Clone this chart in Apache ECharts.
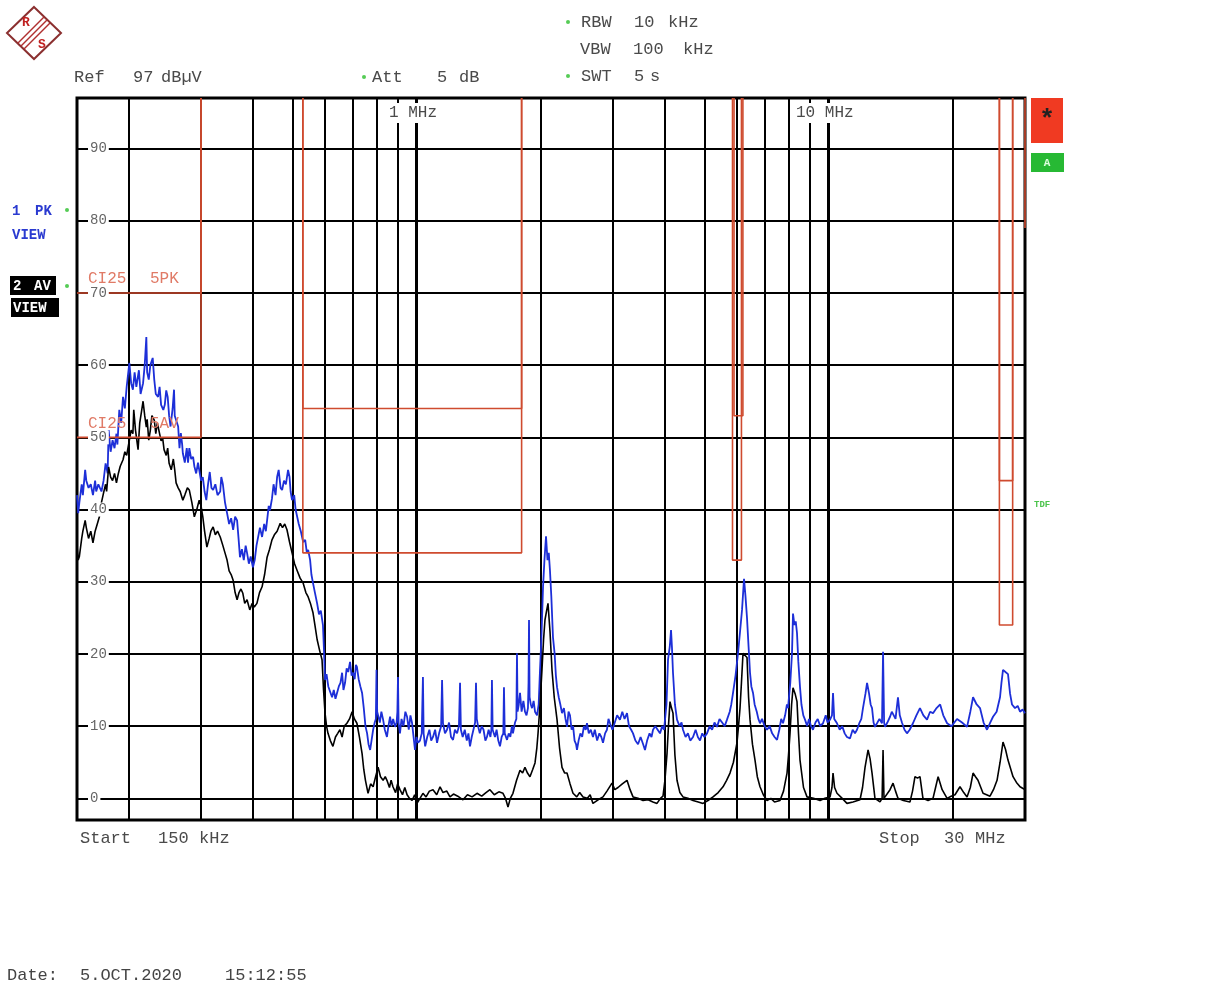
<!DOCTYPE html>
<html><head><meta charset="utf-8">
<script src="https://cdn.jsdelivr.net/npm/echarts@6/dist/echarts.min.js"></script>
<style>html,body{margin:0;padding:0;background:#fff}#c{width:1207px;height:1006px}</style>
</head><body><div id="c"></div>
<script>
// ---- data (frequency in MHz, level in dBµV) ----
const gridFreqMHz = [0.2,0.3,0.4,0.5,0.6,0.7,0.8,0.9,1,2,3,4,5,6,7,8,9,10,20];
const gridLevels = [0,10,20,30,40,50,60,70,80,90];
const yTickLabels = [0,10,20,30,40,50,60,70,80,90];

const peakTrace = [
[0.150,42],[0.151,39.5],[0.152,41],[0.154,43.5],[0.155,42],[0.157,45.5],[0.158,44],[0.160,43],[0.162,43.5],[0.164,42],
[0.166,44],[0.167,42.5],[0.169,43.5],[0.172,42.5],[0.174,44],[0.176,46.4],[0.178,45],[0.179,51],[0.181,48],[0.183,49.6],
[0.185,48.5],[0.187,50.5],[0.188,49],[0.190,53.8],[0.192,52],[0.194,55.6],[0.196,54],[0.198,57],[0.201,60.3],[0.203,57.5],
[0.205,56.6],[0.207,59],[0.209,57],[0.212,59.3],[0.214,56],[0.217,57.5],[0.219,60],[0.221,63.9],[0.222,59],[0.224,58],
[0.226,60],[0.229,61],[0.231,58],[0.233,56],[0.236,55.6],[0.238,57],[0.240,54.5],[0.243,53.8],[0.245,54.5],[0.247,56.5],
[0.249,55.6],[0.251,53],[0.253,51.5],[0.256,54],[0.258,56.6],[0.259,53],[0.261,52.8],[0.264,51.5],[0.266,48.5],[0.268,50.6],
[0.270,49],[0.271,47.8],[0.274,46.5],[0.277,48.5],[0.279,46.5],[0.281,48.5],[0.284,47],[0.287,47.3],[0.289,46],[0.292,45],
[0.295,46.5],[0.298,45],[0.300,44],[0.303,44.5],[0.306,42.5],[0.309,41.3],[0.312,43.5],[0.315,45.2],[0.318,43],[0.321,42.7],
[0.325,43.5],[0.329,42],[0.334,42.5],[0.336,44.5],[0.339,43.5],[0.343,41],[0.347,39.5],[0.351,38],[0.355,38.8],[0.359,37.2],
[0.363,39],[0.367,38.5],[0.370,36],[0.373,33.4],[0.377,34.5],[0.381,33],[0.385,35],[0.388,34],[0.392,32.5],[0.396,33.5],
[0.401,32],[0.405,33],[0.409,35],[0.413,34.8],[0.417,37.5],[0.422,36.2],[0.427,38],[0.431,37],[0.434,38.5],[0.438,40.5],
[0.441,39.9],[0.446,41.5],[0.450,43.5],[0.455,42],[0.459,44.5],[0.463,45.5],[0.468,43],[0.472,42.7],[0.477,44],[0.482,43.5],
[0.488,45.5],[0.492,44.5],[0.495,42.5],[0.499,41.3],[0.505,42],[0.509,40],[0.513,39.9],[0.518,38],[0.524,37],[0.531,35.5],
[0.537,35.8],[0.542,34],[0.546,34.4],[0.552,33],[0.556,31],[0.561,29.8],[0.567,28.5],[0.574,27],[0.580,25.5],[0.586,26],
[0.593,24],[0.596,21],[0.600,16.4],[0.605,17.2],[0.611,15.5],[0.617,15.4],[0.624,14],[0.630,15],[0.636,13.8],[0.642,13.6],
[0.648,15.5],[0.654,16],[0.660,17.4],[0.665,15],[0.671,16],[0.677,18],[0.683,17.5],[0.690,18.9],[0.696,17],[0.702,17.4],
[0.708,16.5],[0.713,18.5],[0.717,18.2],[0.724,16.5],[0.731,15.5],[0.738,14.6],[0.745,12.5],[0.752,10],[0.759,9],[0.765,7.5],
[0.772,6.7],[0.778,8],[0.785,9.5],[0.792,10.5],[0.797,11],[0.800,17.8],[0.803,12],[0.807,11.8],[0.815,10.5],[0.822,12],
[0.830,10.9],[0.838,9.5],[0.848,8.5],[0.855,10],[0.863,11.3],[0.870,10],[0.878,11],[0.887,9.9],[0.895,10.5],[0.899,12],
[0.902,16.8],[0.905,10.5],[0.912,9],[0.920,11],[0.930,10],[0.940,12],[0.949,11.3],[0.958,9.5],[0.967,11.5],[0.976,10.4],
[0.984,8.5],[0.992,6.7],[1.000,8.5],[1.009,7.7],[1.020,8],[1.030,9],[1.037,16.8],[1.041,9],[1.050,7.2],[1.062,8.5],
[1.075,9.5],[1.086,8],[1.097,8.5],[1.110,9.5],[1.122,7.7],[1.135,9],[1.148,10],[1.154,16.4],[1.160,10.4],[1.173,9],
[1.186,9.5],[1.200,10.5],[1.213,8.5],[1.227,8.1],[1.240,9.5],[1.255,9],[1.268,10],[1.276,16],[1.282,9.5],[1.295,8.5],
[1.310,9.5],[1.325,8],[1.337,9],[1.349,7.2],[1.362,8.5],[1.375,9.5],[1.388,10.5],[1.395,16],[1.401,11],[1.411,10],
[1.425,9],[1.440,10],[1.455,9.5],[1.470,8],[1.483,8.5],[1.497,9.5],[1.512,8.5],[1.520,9.5],[1.525,16.4],[1.531,9.5],
[1.551,8.5],[1.565,9.5],[1.580,8],[1.595,7.2],[1.610,8.5],[1.625,9],[1.631,15.4],[1.638,9],[1.659,8.1],[1.675,9],
[1.690,8.5],[1.705,10],[1.715,9],[1.735,10.5],[1.748,11],[1.754,20.1],[1.760,12],[1.772,13],[1.784,14.6],[1.800,12],
[1.818,13.5],[1.834,12],[1.850,11.5],[1.865,12.5],[1.871,16],[1.876,24.7],[1.882,14],[1.895,13],[1.908,12.5],[1.925,13.5],
[1.940,12],[1.962,11.5],[1.980,13],[1.995,17.8],[2.010,22],[2.029,29.3],[2.045,33],[2.063,36.3],[2.080,33],[2.095,34],
[2.109,31.6],[2.125,28],[2.145,22.3],[2.165,20],[2.180,17],[2.194,15.4],[2.215,14],[2.235,13],[2.256,11.8],[2.280,12.5],
[2.300,11],[2.320,9.9],[2.340,12],[2.359,11.5],[2.380,9.5],[2.400,10],[2.420,8],[2.440,7.5],[2.453,6.7],[2.475,8],
[2.500,9],[2.525,8.5],[2.550,10],[2.575,9.5],[2.594,10.4],[2.620,9],[2.650,9.5],[2.682,8.5],[2.710,9.5],[2.745,8],
[2.780,9],[2.810,8.5],[2.837,7.7],[2.870,9],[2.900,9.5],[2.925,11],[2.950,10.4],[2.990,9.5],[3.030,10.5],[3.070,11.5],
[3.119,10.9],[3.160,12],[3.200,11],[3.244,11.8],[3.280,10],[3.320,9.5],[3.355,9],[3.400,8],[3.450,7.5],[3.500,8.5],
[3.550,7.5],[3.587,6.7],[3.630,8],[3.680,9],[3.720,8.5],[3.752,9.5],[3.800,10],[3.850,9.5],[3.901,9],[3.950,10],
[3.990,9.5],[4.012,10.9],[4.045,13],[4.080,19.2],[4.120,21],[4.149,23.3],[4.170,21],[4.195,17.4],[4.240,13],[4.290,10.9],
[4.350,10],[4.400,10.5],[4.436,9.5],[4.500,8.5],[4.560,9],[4.620,8],[4.692,8.5],[4.760,9.5],[4.820,8.5],[4.879,8],
[4.940,9],[5.000,8.5],[5.073,9],[5.150,10],[5.220,9.5],[5.290,10.5],[5.365,9.9],[5.440,11],[5.520,10.5],[5.600,10],
[5.673,10.9],[5.760,12],[5.810,13],[5.867,14.6],[5.950,17],[6.033,20.1],[6.100,23],[6.170,26.1],[6.239,30.4],[6.290,28],
[6.344,25],[6.400,21],[6.452,17.4],[6.500,15.5],[6.561,14.6],[6.620,13],[6.700,12],[6.760,11],[6.822,10.4],[6.900,11],
[7.000,10],[7.094,9.5],[7.200,10],[7.300,9],[7.400,8.5],[7.503,8.1],[7.600,9.5],[7.680,11],[7.758,10.4],[7.850,11.5],
[7.930,13],[7.978,12.5],[8.080,16],[8.158,20.1],[8.204,25.6],[8.270,24],[8.330,24.5],[8.389,22.9],[8.450,19],[8.531,15.4],
[8.600,13],[8.690,11.5],[8.773,10.9],[8.880,10],[8.970,11],[9.074,10],[9.174,9.5],[9.300,10.5],[9.420,11],[9.550,10],
[9.702,10.4],[9.850,11.5],[9.950,10.5],[10.09,10.9],[10.20,11.5],[10.26,14.6],[10.33,11],[10.49,10.4],[10.65,9.5],[10.80,10],
[10.95,9],[11.09,8.5],[11.28,8.3],[11.45,9.5],[11.60,9],[11.73,9.5],[11.90,10.5],[12.02,11],[12.13,12.5],[12.30,14.5],
[12.41,16],[12.55,14.5],[12.66,13],[12.76,12.5],[12.87,10.5],[12.97,9.9],[13.15,10.5],[13.30,11],[13.49,10.4],[13.57,20.3],
[13.65,10.5],[13.72,9.9],[13.90,10.5],[14.11,11.3],[14.25,12],[14.35,11.8],[14.55,11],[14.75,14],[14.90,11.5],[15.08,10.5],
[15.30,9.5],[15.51,9],[15.75,9.5],[16.04,10.4],[16.35,11.5],[16.68,12.5],[17.00,11.5],[17.35,10.9],[17.65,12],[17.94,11.8],
[18.30,12.5],[18.67,13],[19.00,11.5],[19.41,10.4],[19.90,10],[20.52,11],[21.10,10.5],[21.70,9.9],[22.10,12],[22.44,14],
[22.90,13],[23.33,12.5],[23.80,10.5],[24.26,9.5],[24.70,10.5],[25.09,11.3],[25.60,12],[26.09,14],[26.30,16],[26.53,17.8],
[26.90,17.5],[27.28,17.2],[27.60,14.5],[27.90,13],[28.37,12.5],[28.80,12.8],[29.18,12],[29.60,12.3],[30.0,11.8]
];

const avgTrace = [
[0.150,35],[0.151,33],[0.152,33.5],[0.154,36],[0.155,37],[0.157,38.5],[0.158,37.5],[0.160,36],[0.162,37],[0.164,35.4],
[0.166,37],[0.168,38],[0.170,39],[0.172,41],[0.174,42.3],[0.176,43.5],[0.177,42.5],[0.179,45.9],[0.181,44.5],[0.183,44],
[0.185,45],[0.187,43.7],[0.189,45],[0.191,46],[0.194,46.9],[0.196,48],[0.198,47.5],[0.201,49.6],[0.203,51],[0.205,50.5],
[0.206,53.8],[0.208,51],[0.211,48.3],[0.213,52],[0.215,53.5],[0.217,55],[0.219,53],[0.221,51.4],[0.222,52.5],[0.224,49.6],
[0.226,51],[0.228,53],[0.231,52.4],[0.233,50.5],[0.235,52],[0.237,51],[0.240,49.5],[0.242,50],[0.244,48.3],[0.247,47.5],
[0.249,48.5],[0.251,46.4],[0.254,45.5],[0.257,47],[0.259,45.5],[0.261,43.7],[0.264,43],[0.267,42.5],[0.271,41.3],[0.274,42],
[0.278,43],[0.281,42.7],[0.285,41],[0.289,39],[0.293,40],[0.297,41.3],[0.300,40.5],[0.303,39],[0.306,37],[0.310,34.8],
[0.314,36],[0.317,37],[0.321,37.6],[0.325,36.5],[0.329,37],[0.334,36.2],[0.339,35],[0.343,34],[0.347,33],[0.351,31.5],
[0.355,31],[0.359,30.2],[0.363,28.5],[0.367,27.5],[0.371,28.5],[0.375,29],[0.379,28.4],[0.383,27],[0.388,27.5],[0.394,26.1],
[0.399,27],[0.404,26.5],[0.410,27],[0.416,28.5],[0.422,29.3],[0.428,31],[0.434,33.4],[0.440,34.5],[0.446,35.8],[0.452,36.5],
[0.459,37],[0.467,38.1],[0.473,37.5],[0.479,38],[0.485,37.2],[0.492,35.5],[0.499,34],[0.506,32.5],[0.513,31.6],[0.522,30.5],
[0.531,29.8],[0.539,28.5],[0.546,27.9],[0.553,27],[0.561,25.7],[0.567,24],[0.574,22],[0.582,20.5],[0.590,19.2],[0.595,15],
[0.600,11.8],[0.605,10],[0.610,9],[0.618,8],[0.627,7.2],[0.636,8.5],[0.644,9],[0.652,9.5],[0.660,8.5],[0.668,10],
[0.678,10.4],[0.688,11],[0.698,12],[0.707,11],[0.717,10.4],[0.727,8.5],[0.738,6.2],[0.745,4],[0.752,2.5],[0.763,0.7],
[0.774,2],[0.785,1.6],[0.796,3],[0.807,4.3],[0.818,3],[0.830,2.5],[0.840,3],[0.848,2.5],[0.860,1.5],[0.868,2.5],
[0.877,1.6],[0.890,0.8],[0.900,2],[0.912,1.2],[0.925,0.5],[0.937,1.5],[0.949,0.5],[0.962,0],[0.976,-0.3],[0.990,0.5],
[1.003,-0.7],[1.020,0],[1.037,0.7],[1.055,0.2],[1.075,1],[1.097,1.2],[1.120,0.5],[1.141,1.6],[1.160,0.8],[1.185,1],
[1.206,0.2],[1.230,0.6],[1.260,0.3],[1.297,-0.2],[1.330,0.5],[1.365,0.2],[1.403,0.7],[1.440,0.3],[1.475,0.8],[1.508,1.2],
[1.545,0.5],[1.585,0.9],[1.622,0.7],[1.645,0],[1.668,-1.2],[1.690,0],[1.715,0.7],[1.750,2.5],[1.784,3.9],[1.810,3.5],
[1.834,4.3],[1.860,3.5],[1.886,3],[1.915,4],[1.940,4.9],[1.960,7],[1.973,9],[1.995,13],[2.017,17.8],[2.035,22],
[2.051,24.7],[2.070,26],[2.086,27],[2.110,23],[2.133,17.8],[2.160,14],[2.194,10.9],[2.225,7],[2.256,4.3],[2.290,3.5],
[2.320,3.5],[2.360,2],[2.399,0.7],[2.450,0.2],[2.490,0.8],[2.537,0.2],[2.600,0],[2.640,0.5],[2.682,-0.7],[2.760,-0.2],
[2.837,0.2],[2.900,1],[2.983,2.1],[3.030,1.2],[3.085,1.5],[3.160,2],[3.244,2.5],[3.300,1.2],[3.355,0.2],[3.450,0],
[3.548,-0.3],[3.650,-0.2],[3.750,-0.5],[3.836,-0.7],[3.910,0],[3.967,0.3],[4.010,2.5],[4.057,6.2],[4.090,10],[4.125,13.4],
[4.160,12.5],[4.195,11.8],[4.240,6],[4.290,2.5],[4.360,0.8],[4.436,0.2],[4.560,0],[4.692,-0.3],[4.830,-0.5],[4.961,-0.7],
[5.100,-0.3],[5.247,0.2],[5.400,0.8],[5.548,1.6],[5.660,2.5],[5.769,3.5],[5.880,5],[5.999,7.7],[6.050,10],[6.101,12.5],
[6.150,16],[6.204,20.1],[6.270,20.3],[6.344,19.5],[6.400,14],[6.452,10.9],[6.540,7.5],[6.634,5.3],[6.720,3],[6.822,1.6],
[6.950,0.5],[7.094,-0.3],[7.250,0],[7.400,-0.5],[7.629,-0.3],[7.780,1],[7.934,3.5],[8.000,6],[8.068,9],[8.140,13],
[8.204,15.3],[8.300,14.5],[8.389,13.4],[8.460,9],[8.531,5.3],[8.700,1.5],[8.871,0.2],[9.200,0],[9.541,-0.3],[9.800,0],
[10.09,0.2],[10.20,1.5],[10.26,3.5],[10.35,1.5],[10.49,0.7],[10.80,0],[11.09,-0.7],[11.47,-0.5],[11.93,-0.2],[12.10,1.5],
[12.27,4.3],[12.48,6.7],[12.62,5.5],[12.76,3.5],[12.97,0],[13.34,-0.5],[13.50,0],[13.57,6.7],[13.64,0],[13.72,-0.2],
[14.11,1.2],[14.35,2.1],[14.55,1],[14.75,0],[15.20,-0.3],[15.77,-0.5],[16.00,1],[16.22,3],[16.45,2.8],[16.68,3],
[16.96,0],[17.45,-0.3],[17.94,0],[18.20,1.5],[18.46,3],[18.88,1.2],[19.41,0],[19.85,0.3],[20.29,0.5],[20.86,1.6],
[21.30,0.8],[21.70,0.2],[22.10,1.5],[22.44,3.5],[22.75,3],[23.07,2.5],[23.73,0.7],[24.20,0.5],[24.67,0.3],[25.15,1.2],
[25.66,2.5],[26.10,5],[26.53,7.8],[26.90,6.8],[27.28,5.3],[28.06,3],[28.60,2.2],[29.18,1.6],[29.60,1.4],[30.0,1.2]
];

// limit lines (CISPR 25 class 5), segments
const limitPK = [
  [[0.15,70],[0.3,70],[0.3,97]],
  [[0.53,97],[0.53,54],[1.8,54],[1.8,97]],
  [[5.9,97],[5.9,53],[6.2,53],[6.2,97]],
  [[26,97],[26,44],[28,44],[28,97]],
  [[30,97],[30,79]]
];
const limitAV = [
  [[0.15,50],[0.3,50],[0.3,97]],
  [[0.53,97],[0.53,34],[1.8,34],[1.8,97]],
  [[5.85,97],[5.85,33],[6.15,33],[6.15,97]],
  [[26,97],[26,24],[28,24],[28,97]]
];

// ---- chart ----
const MONO = '"Liberation Mono","DejaVu Sans Mono",monospace';
const GREY = '#4a4a4a';
const LIMIT = '#cf4b2f';

const gridLines = [];
gridFreqMHz.forEach(f => gridLines.push({xAxis: f, lineStyle: {width: (f === 1 || f === 10) ? 3 : 2}}));
gridLevels.forEach(v => gridLines.push({yAxis: v}));

const series = [
  {
    name: '1 PK', type: 'line', data: peakTrace, showSymbol: false, z: 2,
    lineStyle: {color: '#1d2fd8', width: 1.8}, itemStyle: {color: '#1d2fd8'},
    emphasis: {disabled: true}, animation: false,
    markLine: {
      silent: true, z: 1, symbol: ['none', 'none'], label: {show: false}, animation: false,
      lineStyle: {color: '#000', width: 2, type: 'solid'},
      emphasis: {disabled: true},
      data: gridLines
    }
  },
  {
    name: '2 AV', type: 'line', data: avgTrace, showSymbol: false, z: 3,
    lineStyle: {color: '#000', width: 1.6}, itemStyle: {color: '#000'},
    emphasis: {disabled: true}, animation: false
  }
];
limitPK.concat(limitAV).forEach(seg => series.push({
  type: 'line', data: seg, showSymbol: false, z: 4, silent: true, animation: false,
  lineStyle: {color: LIMIT, width: 1.6}, itemStyle: {color: LIMIT}, emphasis: {disabled: true}
}));

function txt(text, x, y, size, color, extra) {
  return {
    type: 'text', x: x, y: y, z: 20, silent: true,
    style: Object.assign({text: text, fontFamily: MONO, fontSize: size, fill: color,
      align: 'left', verticalAlign: 'middle'}, extra || {})
  };
}
function dot(x, y) {
  return {type: 'circle', z: 20, silent: true, shape: {cx: x, cy: y, r: 2}, style: {fill: '#5c5'}};
}

const graphics = [
  // logo
  {type: 'polygon', z: 20, silent: true, shape: {points: [[34,7],[61,33],[34,59],[7,33]]},
   style: {fill: 'none', stroke: '#8b3030', lineWidth: 2}},
  {type: 'line', z: 20, silent: true, shape: {x1: 44, y1: 17, x2: 18, y2: 43}, style: {stroke: '#b03030', lineWidth: 1.5}},
  {type: 'line', z: 20, silent: true, shape: {x1: 47, y1: 20, x2: 21, y2: 46}, style: {stroke: '#b03030', lineWidth: 1.5}},
  {type: 'line', z: 20, silent: true, shape: {x1: 50, y1: 23, x2: 24, y2: 49}, style: {stroke: '#b03030', lineWidth: 1.5}},
  txt('R', 22, 23, 13, '#c02020', {fontWeight: 'bold'}),
  txt('S', 38, 45, 13, '#c02020', {fontWeight: 'bold'}),

  // header
  txt('Ref', 74, 77, 17, GREY), txt('97', 133, 77, 17, GREY), txt('dBµV', 161, 77, 17, GREY),
  dot(364, 77), txt('Att', 372, 77, 17, GREY), txt('5', 437, 77, 17, GREY), txt('dB', 459, 77, 17, GREY),
  dot(568, 22), txt('RBW', 581, 22, 17, GREY), txt('10', 634, 22, 17, GREY), txt('kHz', 668, 22, 17, GREY),
  txt('VBW', 580, 49, 17, GREY), txt('100', 633, 49, 17, GREY), txt('kHz', 683, 49, 17, GREY),
  dot(568, 76), txt('SWT', 581, 76, 17, GREY), txt('5', 634, 76, 17, GREY), txt('s', 650, 76, 17, GREY),

  // trace legends
  txt('1', 12, 211, 14, '#2a3ad0', {fontWeight: 'bold'}), txt('PK', 35, 211, 14, '#2a3ad0', {fontWeight: 'bold'}), dot(67, 210),
  txt('VIEW', 12, 235, 14, '#2a3ad0', {fontWeight: 'bold'}),
  {type: 'rect', z: 19, silent: true, shape: {x: 10, y: 276, width: 46, height: 19}, style: {fill: '#000'}},
  txt('2', 13, 286, 14, '#fff', {fontWeight: 'bold'}), txt('AV', 34, 286, 14, '#fff', {fontWeight: 'bold'}), dot(67, 286),
  {type: 'rect', z: 19, silent: true, shape: {x: 11, y: 298, width: 48, height: 19}, style: {fill: '#000'}},
  txt('VIEW', 13, 308, 14, '#fff', {fontWeight: 'bold'}),

  // limit names
  txt('CI25', 88, 279, 16, '#e07a66'), txt('5PK', 150, 279, 16, '#e07a66'),
  txt('CI25', 88, 424, 16, '#e07a66'), txt('5AV', 150, 424, 16, '#e07a66'),

  // decade labels inside plot
  txt('1 MHz', 386, 113, 16, GREY, {backgroundColor: '#fff', padding: [2, 3]}),
  txt('10 MHz', 793, 113, 16, GREY, {backgroundColor: '#fff', padding: [2, 3]}),

  // right side status
  {type: 'rect', z: 19, silent: true, shape: {x: 1031, y: 98, width: 32, height: 45}, style: {fill: '#f03a22'}},
  txt('*', 1047, 120, 26, '#222', {align: 'center', fontWeight: 'bold'}),
  {type: 'rect', z: 19, silent: true, shape: {x: 1031, y: 153, width: 33, height: 19}, style: {fill: '#27b934'}},
  txt('A', 1047, 163, 11, '#dfffdf', {align: 'center', fontWeight: 'bold'}),
  txt('TDF', 1034, 505, 9, '#4cc44c', {fontWeight: 'bold'}),

  // footer
  txt('Start', 80, 838, 17, GREY), txt('150', 158, 838, 17, GREY), txt('kHz', 199, 838, 17, GREY),
  txt('Stop', 879, 838, 17, GREY), txt('30', 944, 838, 17, GREY), txt('MHz', 975, 838, 17, GREY),
  txt('Date:', 7, 975, 17, '#444'), txt('5.OCT.2020', 80, 975, 17, '#444'), txt('15:12:55', 225, 975, 17, '#444')
];

const chart = echarts.init(document.getElementById('c'), null, {renderer: 'canvas'});
chart.setOption({
  animation: false,
  backgroundColor: '#fff',
  grid: {left: 77, top: 98, width: 948, height: 722, show: true, borderColor: '#000', borderWidth: 3, backgroundColor: 'transparent'},
  xAxis: {type: 'log', logBase: 10, min: 0.15, max: 30,
    axisLine: {show: false}, axisTick: {show: false}, axisLabel: {show: false}, splitLine: {show: false}},
  yAxis: {type: 'value', min: -3, max: 97, z: 10,
    axisLine: {show: false}, axisTick: {show: false}, splitLine: {show: false},
    axisLabel: {inside: true, customValues: yTickLabels, margin: 11, color: '#666', fontFamily: MONO, fontSize: 14,
      backgroundColor: '#fff', padding: [0, 2]}},
  series: series,
  graphic: {elements: graphics}
});
</script>
</body></html>
